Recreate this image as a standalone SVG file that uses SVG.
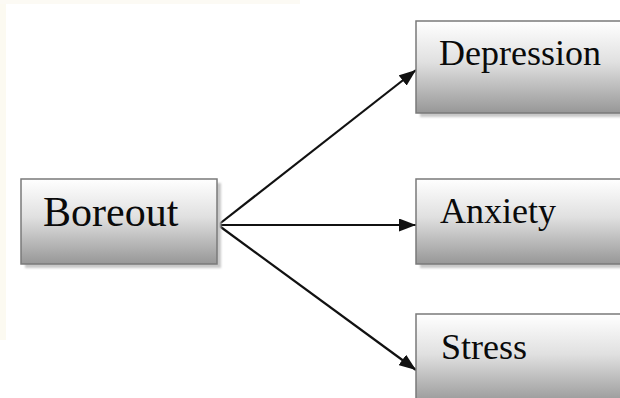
<svg xmlns="http://www.w3.org/2000/svg" width="620" height="398" viewBox="0 0 620 398">
<style>
.box{fill:url(#g);stroke:#7a7a7a;stroke-width:1.5}
.sh{fill:#c8c8c8;filter:url(#blur)}
.lbl{font-family:"Liberation Serif","Times New Roman",serif;fill:#0a0a0a}
.con{stroke:#111;stroke-width:2.2;fill:none;marker-end:url(#ah)}
</style>
<defs>
<linearGradient id="g" x1="0" y1="0" x2="0" y2="1">
<stop offset="0" stop-color="#ffffff"/>
<stop offset="0.45" stop-color="#e0e0e0"/>
<stop offset="1" stop-color="#979797"/>
</linearGradient>
<filter id="blur" x="-10%" y="-10%" width="120%" height="120%"><feGaussianBlur stdDeviation="1.2"/></filter>
<marker id="ah" viewBox="0 0 17 13" refX="17" refY="6.5" markerWidth="17" markerHeight="13" markerUnits="userSpaceOnUse" orient="auto">
<path d="M0,0 L17,6.5 L0,13 Z" fill="#111"/>
</marker>
</defs>
<rect x="0" y="0" width="620" height="398" fill="#ffffff"/>
<rect x="0" y="0" width="6" height="340" fill="#fcfaf1"/>
<rect x="0" y="0" width="300" height="4" fill="#fcfaf4"/>
<g id="connectors">
<line class="con" x1="218" y1="225" x2="416" y2="70"/>
<line class="con" x1="218" y1="225" x2="416" y2="225"/>
<line class="con" x1="218" y1="225" x2="416" y2="370"/>
</g>
<g id="boreout">
<rect class="sh" x="25" y="183" width="196" height="85"/>
<rect class="box" x="21" y="179" width="196" height="85"/>
<text class="lbl" x="43" y="226" font-size="42">Boreout</text>
</g>
<g id="depression">
<rect class="sh" x="420" y="25" width="210" height="92"/>
<rect class="box" x="416" y="21" width="210" height="92"/>
<text class="lbl" x="439" y="65" font-size="36">Depression</text>
</g>
<g id="anxiety">
<rect class="sh" x="420" y="183" width="210" height="85"/>
<rect class="box" x="416" y="179" width="210" height="85"/>
<text class="lbl" x="440" y="223" font-size="36">Anxiety</text>
</g>
<g id="stress">
<rect class="sh" x="420" y="318" width="210" height="90"/>
<rect class="box" x="416" y="314" width="210" height="90"/>
<text class="lbl" x="441" y="359" font-size="36">Stress</text>
</g>
</svg>
